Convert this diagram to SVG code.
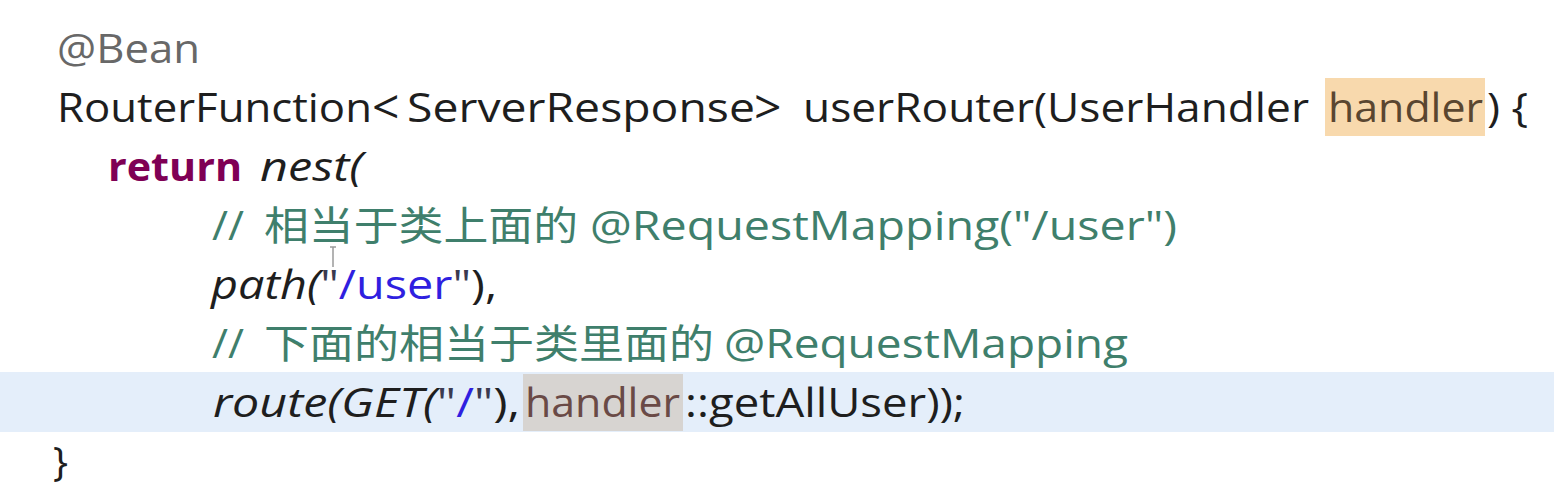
<svg xmlns="http://www.w3.org/2000/svg" width="1554" height="497" viewBox="0 0 1554 497">
<style>
text{font-family:"Open Sans","Noto Sans CJK SC",sans-serif;font-size:40px;fill:#1e1e1e}
.cjk{font-family:"Noto Sans CJK SC","Open Sans",sans-serif;font-size:40px}
.big{font-size:48px}
.anno{fill:#686868}
.kw{fill:#7f0055;font-weight:bold}
.it{font-style:italic}
.cm{fill:#3f7f6c}
.str{fill:#2f1fe0}
.q{fill:#3a3a50}
.occ{fill:#5a4630}
.occ2{fill:#6a4a46}
</style>
<rect x="0" y="0" width="1554" height="497" fill="#ffffff"/>
<rect id="current-line" x="0" y="372" width="1554" height="60" fill="#e4eefa"/>
<rect id="mark1" x="1325" y="78" width="160" height="58" fill="#f8d9ad"/>
<rect id="mark2" x="523" y="374" width="160" height="57" fill="#d7d4d1"/>

<g id="line1">
<text class="anno" x="57" y="63" textLength="143" lengthAdjust="spacingAndGlyphs">@Bean</text>
</g>
<g id="line2">
<text x="57" y="122" textLength="315" lengthAdjust="spacingAndGlyphs">RouterFunction</text>
<text class="big" x="372" y="124">&lt;</text>
<text x="407" y="122" textLength="348" lengthAdjust="spacingAndGlyphs">ServerResponse</text>
<text class="big" x="754" y="124">&gt;</text>
<text x="803" y="122" textLength="506" lengthAdjust="spacingAndGlyphs">userRouter(UserHandler</text>
<text class="occ" x="1328" y="122" textLength="155" lengthAdjust="spacingAndGlyphs">handler</text>
<text x="1487" y="122" textLength="41" lengthAdjust="spacingAndGlyphs">) {</text>
</g>
<g id="line3">
<text class="kw" x="108" y="181" textLength="134" lengthAdjust="spacingAndGlyphs">return</text>
<text class="it" x="260" y="181" textLength="103" lengthAdjust="spacingAndGlyphs">nest(</text>
</g>
<g id="line4">
<text class="cm" x="212" y="240" textLength="32" lengthAdjust="spacingAndGlyphs">//</text>
<text class="cm cjk" x="264" y="240" textLength="314" lengthAdjust="spacingAndGlyphs">相当于类上面的</text>
<text class="cm" x="590" y="240" textLength="587" lengthAdjust="spacingAndGlyphs">@RequestMapping("/user")</text>
</g>
<g id="line5">
<text x="211" y="299" textLength="286" lengthAdjust="spacingAndGlyphs"><tspan class="it">path(</tspan><tspan class="q">"</tspan><tspan class="str">/user</tspan><tspan class="q">"</tspan>),</text>
</g>
<g id="line6">
<text class="cm" x="212" y="358" textLength="32" lengthAdjust="spacingAndGlyphs">//</text>
<text class="cm cjk" x="264" y="358" textLength="450" lengthAdjust="spacingAndGlyphs">下面的相当于类里面的</text>
<text class="cm" x="724" y="358" textLength="404" lengthAdjust="spacingAndGlyphs">@RequestMapping</text>
</g>
<g id="line7">
<text x="213" y="417" textLength="307" lengthAdjust="spacingAndGlyphs"><tspan class="it">route(GET(</tspan><tspan class="q">"</tspan><tspan class="str">/</tspan><tspan class="q">"</tspan>),</text>
<text class="occ2" x="525" y="417" textLength="155" lengthAdjust="spacingAndGlyphs">handler</text>
<text x="685" y="417" textLength="280" lengthAdjust="spacingAndGlyphs">::getAllUser));</text>
</g>
<g id="line8">
<text x="53" y="476" textLength="15" lengthAdjust="spacingAndGlyphs">}</text>
</g>
<g id="cursor" stroke="#9a9a9a" stroke-width="1.5" fill="none">
<line x1="333" y1="247" x2="333" y2="267"/>
<line x1="330" y1="247" x2="336" y2="247"/>
</g>
</svg>
